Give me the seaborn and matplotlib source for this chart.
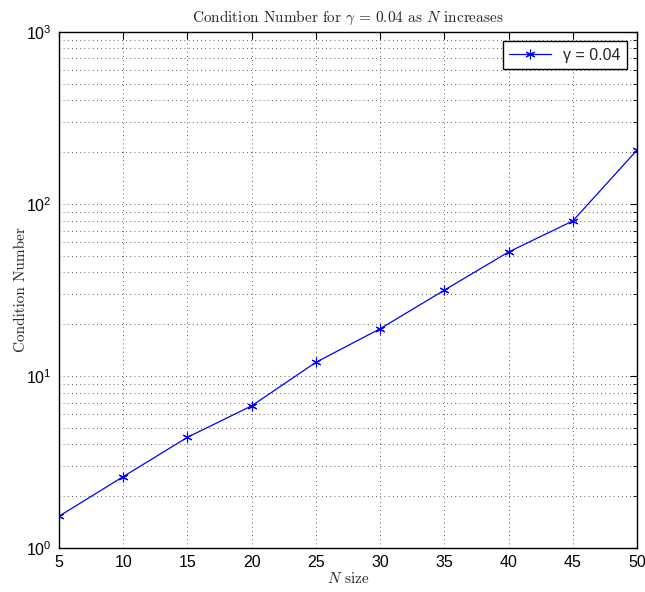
import matplotlib
matplotlib.use("Agg")
import matplotlib.pyplot as plt
import seaborn as sns
import pandas as pd
from matplotlib.ticker import FixedLocator, LogLocator, NullFormatter

n_size = [5, 10, 15, 20, 25, 30, 35, 40, 45, 50]
cond_number = [1.53, 2.6, 4.4, 6.7, 12.0, 18.8, 31.5, 52.5, 79.5, 205.0]
x_ticks = [5, 10, 15, 20, 25, 30, 35, 40, 45, 50]
y_ticks = [1, 10, 100, 1000]
y_tick_labels = [r"$\mathregular{10^{0}}$", r"$\mathregular{10^{1}}$",
                 r"$\mathregular{10^{2}}$", r"$\mathregular{10^{3}}$"]
series_label = "γ = 0.04"

sns.set_theme(style="white")
plt.rcParams['font.family'] = ['Liberation Sans', 'DejaVu Sans']
plt.rcParams['mathtext.fontset'] = 'cm'

df = pd.DataFrame({"N": n_size, "cond": cond_number})

fig = plt.figure(figsize=(6.45, 5.92), dpi=100)
ax = fig.add_axes([0.0915, 0.0743, 0.896, 0.872])

sns.lineplot(data=df, x="N", y="cond", ax=ax, color="#0000ff", linewidth=0.9,
             marker=(6, 2, 0), markersize=7, markeredgecolor="#0000ff",
             markeredgewidth=0.8, label=series_label)

ax.set_yscale("log")
ax.set_xlim(5, 50)
ax.set_ylim(1, 1000)
ax.xaxis.set_major_locator(FixedLocator(x_ticks))
ax.set_xticklabels([str(v) for v in x_ticks])
ax.yaxis.set_major_locator(FixedLocator(y_ticks))
ax.set_yticklabels(y_tick_labels)
ax.yaxis.set_minor_locator(LogLocator(base=10, subs=range(2, 10)))
ax.yaxis.set_minor_formatter(NullFormatter())

ax.grid(True, which="major", axis="both", color="black", linestyle=(0, (1, 4)), linewidth=0.6, alpha=0.85)
ax.grid(True, which="minor", axis="y", color="black", linestyle=(0, (1, 4)), linewidth=0.6, alpha=0.85)

ax.tick_params(axis="both", which="both", direction="in", top=True, right=True,
               labelsize=11.5, colors="black", pad=5)
ax.tick_params(which="major", length=5, width=0.8)
ax.tick_params(which="minor", length=3, width=0.6)
for s in ax.spines.values():
    s.set_color("black")
    s.set_linewidth(1.0)

ax.set_title(r"Condition Number for $\gamma\, =\, 0.04$ as $N$ increases",
             family="cmr10", fontsize=11, pad=7)
ax.set_xlabel(r"$N$ size", family="cmr10", fontsize=11, labelpad=1)
ax.set_ylabel("Condition Number", family="cmr10", fontsize=11, labelpad=-1)

leg = ax.legend(loc="upper right", fontsize=11.5, frameon=True, fancybox=False,
                edgecolor="black", framealpha=1, handlelength=2.6,
                borderaxespad=0.6, borderpad=0.4)
leg.get_frame().set_linewidth(1.0)

fig.savefig("out.png", dpi=100)
